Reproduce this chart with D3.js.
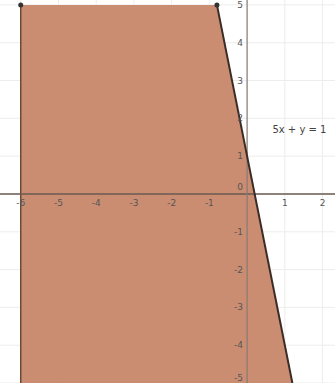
<!DOCTYPE html>
<html>
<head>
<meta charset="utf-8">
<script src="https://cdn.jsdelivr.net/npm/d3@7"></script>
<style>
  body { margin: 0; background: #fff; }
  svg { display: block; }
</style>
</head>
<body>
<div id="chart"></div>
<script>
'use strict';

// data: region 5x + y <= 1, clipped to x >= -6, -5 <= y <= 5
const xTicks = [-6, -5, -4, -3, -2, -1, 1, 2];
const yTicks = [5, 4, 3, 2, 1, -1, -2, -3, -4, -5];
const regionX = [-6, -0.8, 1.2, -6];
const regionY = [5, 5, -5, -5];
const lineX = [-0.8, 1.2];
const lineY = [5, -5];
const cornerX = [-6, -0.8];
const cornerY = [5, 5];
const equationLabel = '5x + y = 1';

const settings = {
    width: 335,
    height: 383,
    elId: '#chart',
};

const x = d3.scaleLinear().domain([-6.55, 2.33]).range([0, settings.width]);
const y = d3.scaleLinear().domain([5.13, -5.0]).range([0, settings.height]);

const svg = d3.select(settings.elId)
    .append('svg')
    .attr('width', settings.width)
    .attr('height', settings.height);

// grid
const grid = svg.append('g').attr('id', 'grid');
grid.selectAll('.gx')
    .data(d3.range(-6, 3))
    .enter()
    .append('line')
    .attr('x1', d => x(d)).attr('x2', d => x(d))
    .attr('y1', 0).attr('y2', settings.height)
    .attr('stroke', '#ededed').attr('stroke-width', 1);
grid.selectAll('.gy')
    .data(d3.range(-5, 6))
    .enter()
    .append('line')
    .attr('y1', d => y(d)).attr('y2', d => y(d))
    .attr('x1', 0).attr('x2', settings.width)
    .attr('stroke', '#ededed').attr('stroke-width', 1);

// shaded region
const pts = regionX.map((d, i) => [x(d), y(regionY[i])]);
svg.append('path')
    .attr('d', d3.line()(pts) + 'Z')
    .attr('fill', '#c8876a')
    .attr('fill-opacity', 0.95);

// left boundary
svg.append('line')
    .attr('x1', x(-6)).attr('x2', x(-6))
    .attr('y1', y(5)).attr('y2', settings.height)
    .attr('stroke', '#6b4a3a').attr('stroke-width', 1.5);

// axes
svg.append('line')
    .attr('x1', 0).attr('x2', settings.width)
    .attr('y1', y(0)).attr('y2', y(0))
    .attr('stroke', '#6a5a52').attr('stroke-width', 1.5);
svg.append('line')
    .attr('x1', x(0)).attr('x2', x(0))
    .attr('y1', 0).attr('y2', settings.height)
    .attr('stroke', '#8a7a72').attr('stroke-width', 1.2);

// boundary line 5x + y = 1
svg.append('line')
    .attr('x1', x(lineX[0])).attr('y1', y(lineY[0]))
    .attr('x2', x(lineX[1])).attr('y2', y(lineY[1]))
    .attr('stroke', '#3a2c26').attr('stroke-width', 2);

// corner points
svg.selectAll('.corner')
    .data(cornerX)
    .enter()
    .append('circle')
    .attr('cx', d => x(d))
    .attr('cy', (d, i) => y(cornerY[i]))
    .attr('r', 2.5)
    .attr('fill', '#333');

// tick labels
svg.selectAll('.xt')
    .data(xTicks)
    .enter()
    .append('text')
    .attr('x', d => x(d))
    .attr('y', y(0) + 12)
    .attr('text-anchor', 'middle')
    .attr('font-family', 'DejaVu Sans, sans-serif')
    .attr('font-size', 9)
    .attr('fill', '#555')
    .text(d => d);
svg.selectAll('.yt')
    .data(yTicks)
    .enter()
    .append('text')
    .attr('x', x(0) - 4)
    .attr('y', d => Math.min(y(d) + 3, settings.height - 2))
    .attr('text-anchor', 'end')
    .attr('font-family', 'DejaVu Sans, sans-serif')
    .attr('font-size', 9)
    .attr('fill', '#555')
    .text(d => d);
svg.append('text')
    .attr('x', x(0) - 4)
    .attr('y', y(0) - 4)
    .attr('text-anchor', 'end')
    .attr('font-family', 'DejaVu Sans, sans-serif')
    .attr('font-size', 9)
    .attr('fill', '#555')
    .text('0');

// equation label
svg.append('text')
    .attr('x', x(0.67))
    .attr('y', y(1.62))
    .attr('font-family', 'DejaVu Sans, sans-serif')
    .attr('font-size', 10)
    .attr('fill', '#444')
    .text(equationLabel);
</script>
</body>
</html>
